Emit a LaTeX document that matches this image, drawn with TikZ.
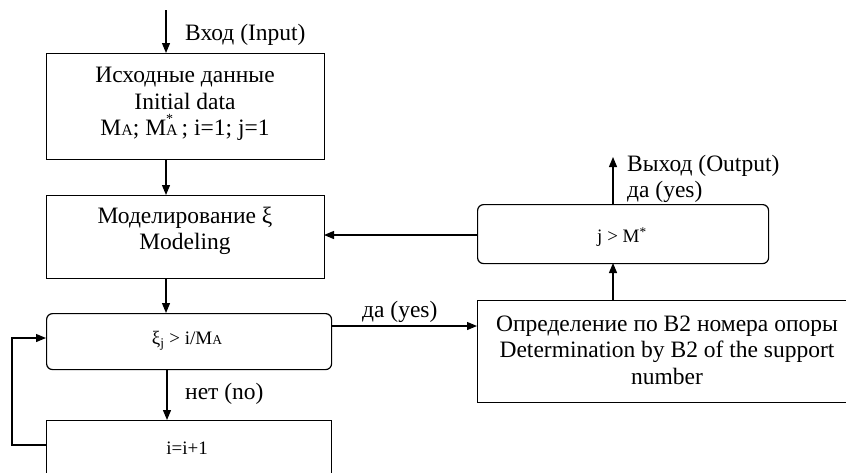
\documentclass[tikz,border=0pt]{standalone}
\usepackage{fontspec}
\setmainfont{Liberation Serif}
\usetikzlibrary{arrows.meta}
\newcommand\bigA{{\fontsize{16}{16}\selectfont A}}
\newcommand\smlA{{\fontsize{13.5}{13.5}\selectfont A}}
\begin{document}
\begin{tikzpicture}[x=1pt,y=-1pt,
  box/.style={draw, line width=1.2pt, inner sep=0pt, anchor=north west},
  rbox/.style={box, rounded corners=6pt},
  big/.style={font=\fontsize{23.5}{26.5}\selectfont, align=center, inner sep=0pt},
  small/.style={font=\fontsize{19}{21}\selectfont, inner sep=0pt},
  lbl/.style={font=\fontsize{23.5}{26}\selectfont, align=left, inner sep=0pt, anchor=west},
  arr/.style={line width=1.2pt, -{Triangle[length=10pt,width=8pt]}}]
\useasboundingbox (0,0) rectangle (846,472);
\clip (0,0) rectangle (846,472);
% boxes
\node[box, minimum width=278pt, minimum height=106pt] (b1) at (46,53) {};
\node[box, minimum width=278pt, minimum height=83pt] (b2) at (46,195) {};
\node[rbox, minimum width=285pt, minimum height=56pt] (d1) at (46,313) {};
\node[box, minimum width=285pt, minimum height=80pt] (b3) at (46,420) {};
\node[rbox, minimum width=291pt, minimum height=59pt] (d2) at (477,204) {};
\node[box, minimum width=380pt, minimum height=102pt] (b4) at (477,300) {};
% texts
\node[big] (t1) at (185,104) {Исходные данные\\Initial data\\M\bigA; M\rlap{\raisebox{1.1ex}{\fontsize{14}{14}\selectfont *}}\bigA\,; i=1; j=1};
\node[big] (t2) at (185,231) {Моделирование ξ\\Modeling};
\node[small] (t3) at (187,341) {ξ\textsubscript{j} > i/M\smlA};
\node[small] (t4) at (187,448) {i=i+1};
\node[small] (t5) at (622,237) {j > M\textsuperscript{*}};
\node[big] (t6) at (667,350) {Определение по B2 номера опоры\\Determination by B2 of the support\\number};
% connectors
\coordinate (in) at (166,10);
\coordinate (out) at (613,157);
\coordinate (lp1) at (12,445);
\coordinate (lp2) at (12,338);
\draw[arr] (in) -- (in |- b1.north);
\draw[arr] (166,159) -- (166,195);
\draw[arr] (166,278) -- (166,313);
\draw[arr] (167,369) -- (167,420);
\draw[arr] (46,445) -- (lp1) -- (lp2) -- (46,338);
\draw[arr] (331,326) -- (477,326);
\draw[arr] (613,300) -- (613,263);
\draw[arr] (613,204) -- (out);
\draw[arr] (477,235) -- (324,235);
% labels
\node[lbl] (l1) at (185,35) {Вход (Input)};
\node[lbl] (l2) at (185,394) {нет (no)};
\node[lbl] (l3) at (362,312) {да (yes)};
\node[lbl] (l4) at (627,179) {Выход (Output)\\да (yes)};
\end{tikzpicture}
\end{document}
